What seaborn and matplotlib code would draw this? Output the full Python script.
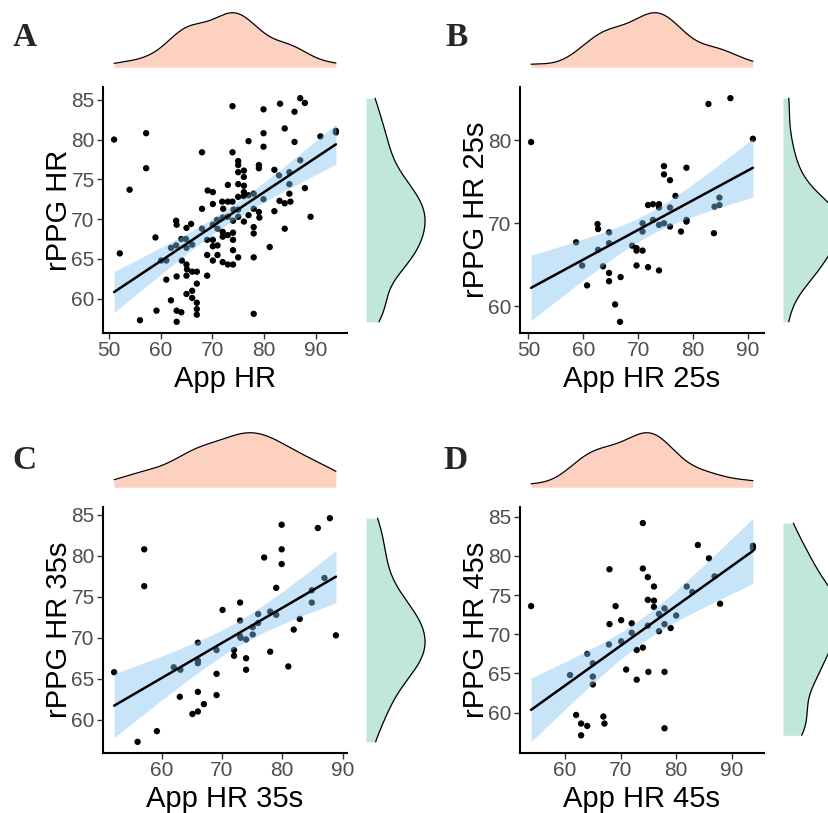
import numpy as np
import pandas as pd
import matplotlib
matplotlib.use("Agg")
import matplotlib.pyplot as plt
import seaborn as sns

sns.set_theme(style="white")
plt.rcParams['font.family'] = ['Liberation Sans', 'DejaVu Sans']

# ===== dados =====
a_app = [51.0, 52.1, 54.0, 56.0, 57.2, 57.2, 59.0, 59.2, 60.1, 61.1,
         61.1, 62.0, 62.0, 63.0, 63.0, 63.1, 63.1, 63.1, 63.1, 64.0,
         64.0, 64.1, 64.9, 65.0, 65.0, 65.0, 65.1, 65.0, 65.0, 65.9,
         66.1, 66.1, 66.1, 66.1, 67.0, 67.0, 67.0, 67.0, 67.0, 68.0,
         68.0, 68.0, 69.0, 69.0, 69.1, 70.1, 70.1, 70.1, 70.1, 70.1,
         70.1, 69.0, 71.0, 71.0, 71.0, 70.9, 71.9, 72.1, 72.0, 72.0,
         72.0, 72.0, 73.0, 73.0, 73.0, 73.0, 73.0, 73.9, 73.9, 73.9,
         74.0, 74.0, 74.0, 74.0, 74.0, 74.1, 75.0, 75.0, 75.0, 75.0,
         75.0, 75.0, 75.0, 75.0, 76.1, 76.1, 76.1, 76.1, 76.1, 76.1,
         77.0, 77.0, 77.0, 78.0, 78.0, 78.0, 78.0, 78.0, 78.0, 79.0,
         79.0, 79.0, 79.1, 79.9, 79.9, 79.9, 79.9, 81.1, 82.0, 82.0,
         82.9, 83.0, 83.1, 84.0, 84.0, 84.0, 84.9, 84.9, 84.9, 85.1,
         85.9, 85.9, 87.0, 87.9, 87.0, 87.9, 89.0, 90.9, 93.9, 93.9]
a_rppg = [80.0, 65.7, 73.7, 57.3, 80.8, 76.4, 67.7, 58.5, 64.8, 64.8,
          62.4, 59.8, 66.4, 66.7, 69.8, 69.3, 62.8, 58.5, 57.1, 67.5,
          58.3, 64.8, 67.5, 68.9, 66.4, 64.3, 63.7, 62.9, 60.6, 69.4,
          66.8, 63.4, 61.0, 60.1, 63.4, 61.9, 59.5, 58.7, 58.0, 78.4,
          71.3, 68.8, 62.9, 65.5, 73.6, 73.4, 71.9, 69.3, 67.4, 66.6,
          64.8, 67.4, 68.8, 66.7, 65.5, 69.9, 72.2, 71.3, 70.2, 68.4,
          67.8, 64.6, 74.3, 72.2, 70.3, 68.0, 64.3, 84.2, 78.4, 72.2,
          69.8, 68.3, 67.4, 66.1, 64.3, 71.2, 77.3, 76.8, 75.9, 74.4,
          72.8, 71.2, 70.3, 65.2, 76.1, 75.3, 74.2, 73.4, 72.9, 69.7,
          79.8, 73.0, 70.5, 73.2, 71.3, 69.0, 68.2, 65.2, 58.1, 76.8,
          76.4, 70.9, 70.2, 83.8, 80.8, 79.1, 72.5, 66.5, 76.2, 71.0,
          75.5, 72.3, 84.5, 81.4, 72.0, 68.8, 75.9, 74.4, 73.2, 72.2,
          83.5, 79.7, 85.2, 84.6, 77.4, 73.9, 70.3, 80.4, 81.1, 80.9]

b_app = [50.5, 58.7, 59.8, 60.7, 62.6, 62.7, 62.7, 63.6, 64.7, 64.7,
         64.7, 64.7, 65.8, 66.8, 66.7, 68.9, 69.7, 69.7, 69.7, 70.8,
         70.8, 70.8, 71.8, 71.8, 72.7, 72.7, 73.8, 73.8, 73.8, 73.8,
         74.7, 74.7, 74.7, 75.8, 75.8, 75.8, 76.8, 77.8, 78.8, 78.8,
         78.8, 82.8, 83.8, 83.9, 84.8, 84.8, 86.8, 90.9]
b_rppg = [79.8, 67.7, 64.9, 62.5, 69.9, 69.3, 66.8, 64.8, 68.9, 67.6,
          64.0, 63.0, 60.2, 63.5, 58.1, 67.3, 67.0, 66.7, 64.9, 70.0,
          69.0, 66.7, 72.2, 64.7, 72.3, 70.4, 72.3, 71.9, 69.8, 64.3,
          76.9, 75.9, 70.0, 75.2, 71.9, 69.6, 73.3, 69.0, 76.7, 70.4,
          70.2, 84.4, 68.8, 72.0, 72.2, 73.1, 85.1, 80.2]

c_app = [52.1, 56.0, 57.1, 57.1, 59.2, 62.0, 63.0, 63.1, 65.1, 66.0,
         66.0, 66.0, 66.0, 66.0, 67.0, 69.1, 69.1, 69.1, 70.1, 72.0,
         72.0, 73.0, 73.0, 73.0, 73.1, 74.0, 74.0, 74.0, 75.1, 75.1,
         76.0, 76.0, 77.0, 78.0, 78.0, 79.0, 79.0, 79.9, 79.9, 79.9,
         81.0, 81.9, 82.9, 84.9, 84.9, 85.9, 87.0, 87.9, 88.9]
c_rppg = [65.8, 57.3, 80.8, 76.3, 58.6, 66.4, 62.8, 66.1, 60.7, 69.4,
          67.2, 66.9, 63.4, 61.0, 61.9, 68.5, 65.6, 63.0, 73.4, 68.5,
          67.8, 74.3, 72.1, 70.2, 70.0, 69.8, 67.5, 66.1, 71.3, 70.4,
          72.9, 71.8, 79.8, 73.2, 68.3, 76.1, 72.8, 83.8, 80.8, 79.0,
          66.5, 71.0, 72.3, 75.8, 74.3, 83.4, 77.3, 84.6, 70.3]

d_app = [53.9, 60.9, 62.0, 62.9, 62.9, 64.0, 64.0, 65.0, 65.0, 65.0,
         66.9, 67.1, 67.9, 68.0, 68.0, 69.1, 70.1, 70.1, 71.0, 72.0,
         72.0, 72.9, 72.9, 74.0, 74.0, 74.0, 74.9, 74.9, 74.9, 75.0,
         76.0, 76.0, 76.0, 76.9, 76.9, 77.9, 77.9, 77.9, 77.9, 79.0,
         80.0, 81.9, 82.9, 83.9, 85.9, 86.9, 87.9, 93.8, 93.8]
d_rppg = [73.6, 64.8, 59.7, 58.6, 57.1, 67.5, 58.3, 66.3, 64.6, 63.6,
          59.5, 58.6, 68.7, 78.3, 71.3, 73.6, 71.8, 69.1, 65.5, 71.4,
          70.2, 68.0, 64.2, 84.2, 78.4, 68.3, 77.3, 74.4, 71.1, 65.2,
          76.1, 74.3, 73.5, 72.6, 70.4, 73.3, 71.3, 65.2, 58.0, 70.8,
          72.4, 76.1, 75.4, 81.4, 79.7, 77.4, 73.9, 81.3, 81.0]

# ticks
xt_ab = [50, 60, 70, 80, 90]
xt_cd = [60, 70, 80, 90]
yt_5 = [60, 65, 70, 75, 80, 85]
yt_10 = [60, 70, 80]

# cores
cor_topo = "#FC8D62"
cor_lado = "#66C2A5"
cor_banda = (128 / 255, 193 / 255, 240 / 255)

W, H = 829, 813
fig = plt.figure(figsize=(W / 100, H / 100), dpi=100)


def box(x0, y0, x1, y1):
    # pixels -> fracao da figura
    return [x0 / W, 1 - y1 / H, (x1 - x0) / W, (y1 - y0) / H]


def banda_lm(x, y, grade):
    # intervalo de confianca 95% do modelo linear (como geom_smooth(method="lm"))
    x = np.asarray(x)
    y = np.asarray(y)
    n = len(x)
    b1, b0 = np.polyfit(x, y, 1)
    resid = y - (b0 + b1 * x)
    s = np.sqrt(np.sum(resid ** 2) / (n - 2))
    sxx = np.sum((x - x.mean()) ** 2)
    gl = n - 2
    z = 1.959964
    t = z + (z ** 3 + z) / (4 * gl) + (5 * z ** 5 + 16 * z ** 3 + 3 * z) / (96 * gl ** 2)
    se = s * np.sqrt(1 / n + (grade - x.mean()) ** 2 / sxx)
    yhat = b0 + b1 * grade
    return yhat - t * se, yhat + t * se


def painel(app, rppg, xlab, ylab, xt, yt, letra, x0, y0, lx, ly):
    df = pd.DataFrame({"app": app, "rppg": rppg})

    ax = fig.add_axes(box(x0, y0, x0 + 244, y0 + 246))
    sns.scatterplot(data=df, x="app", y="rppg", color="black", s=21,
                    edgecolor="none", ax=ax)
    grade = np.linspace(min(app), max(app), 100)
    lo, hi = banda_lm(app, rppg, grade)
    ax.fill_between(grade, lo, hi, color=cor_banda, alpha=0.43, linewidth=0)
    sns.regplot(data=df, x="app", y="rppg", scatter=False, ci=None,
                color="black", line_kws={"lw": 1.8}, ax=ax)
    ax.margins(0.05)

    ax.set_xticks(xt)
    ax.set_yticks(yt)
    ax.set_xlabel(xlab, fontsize=21, color="black", labelpad=3)
    ax.set_ylabel(ylab, fontsize=21, color="black", labelpad=-1)
    ax.tick_params(axis="both", labelsize=15, labelcolor="#4D4D4D",
                   direction="out", length=4, width=1, color="#333333",
                   pad=2, bottom=True, left=True)
    sns.despine(ax=ax)
    for s in ["left", "bottom"]:
        ax.spines[s].set_linewidth(1.5)
        ax.spines[s].set_color("black")

    # densidade marginal de cima
    axt = fig.add_axes(box(x0, y0 - 77, x0 + 244, y0 - 17))
    sns.kdeplot(x=app, fill=True, cut=0, bw_method="silverman", bw_adjust=0.85,
                color=cor_topo, alpha=0.4, linewidth=0, ax=axt)
    sns.kdeplot(x=app, cut=0, bw_method="silverman", bw_adjust=0.85,
                color="black", linewidth=0.9, ax=axt)
    pico = axt.lines[-1].get_ydata().max()
    axt.set_xlim(ax.get_xlim())
    axt.set_ylim(-0.05 * pico, 1.05 * pico)
    axt.axis("off")

    # densidade marginal da direita
    axr = fig.add_axes(box(x0 + 260, y0, x0 + 325, y0 + 246))
    sns.kdeplot(y=rppg, fill=True, cut=0, bw_method="silverman", bw_adjust=0.85,
                color=cor_lado, alpha=0.4, linewidth=0, ax=axr)
    sns.kdeplot(y=rppg, cut=0, bw_method="silverman", bw_adjust=0.85,
                color="black", linewidth=0.9, ax=axr)
    pico = axr.lines[-1].get_xdata().max()
    axr.set_ylim(ax.get_ylim())
    axr.set_xlim(-0.05 * pico, 1.05 * pico)
    axr.axis("off")

    fig.text(lx / W, 1 - ly / H, letra, fontsize=24, fontweight="bold",
             family="Liberation Serif", ha="center", va="center")


painel(a_app, a_rppg, "App HR", "rPPG HR", xt_ab, yt_5, "A", 103, 87, 25, 37)
painel(b_app, b_rppg, "App HR 25s", "rPPG HR 25s", xt_ab, yt_10, "B", 520, 87, 457, 37)
painel(c_app, c_rppg, "App HR 35s", "rPPG HR 35s", xt_cd, yt_5, "C", 103, 507, 24, 460)
painel(d_app, d_rppg, "App HR 45s", "rPPG HR 45s", xt_cd, yt_5, "D", 520, 507, 456, 460)

fig.savefig("out.png", dpi=100)
